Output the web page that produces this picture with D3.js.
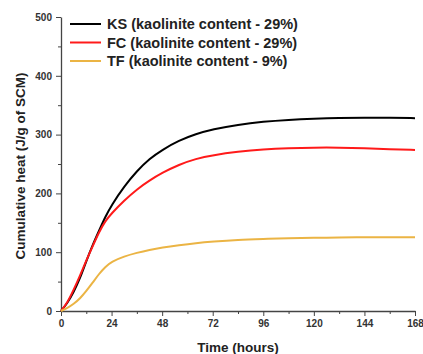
<!DOCTYPE html>
<html>
<head>
<meta charset="utf-8">
<script src="https://cdn.jsdelivr.net/npm/d3@7"></script>
<style>
  body { margin: 0; background: #fff; }
  svg text { font-family: "Liberation Sans", Arial, sans-serif; font-weight: bold; }
</style>
</head>
<body>
<svg id="chart"></svg>
<script>
// Time points (hours) and cumulative heat for each clay
const hours = [0, 3, 6, 9, 12, 15, 18, 21, 24, 30, 36, 42, 48, 56, 64, 72, 84, 96, 108, 120, 132, 144, 156, 168];
const ksHeat = [0, 13, 32, 55, 85, 112, 136, 160, 180, 212, 238, 259, 274, 290, 301, 309, 317, 322, 325, 327, 328.5, 329, 328.5, 328];
const fcHeat = [0, 14, 36, 60, 86, 110, 134, 153, 166, 188, 207, 222, 235, 249, 259, 265, 271, 275, 277, 278, 278, 277, 275, 274];
const tfHeat = [0, 5, 12, 21, 34, 48, 63, 75, 84, 93, 99, 104, 108, 112, 115.5, 118, 121, 122.5, 124, 124.5, 125, 125.5, 125.5, 125.5];

const seriesNames = ["KS (kaolinite content - 29%)", "FC (kaolinite content - 29%)", "TF (kaolinite content - 9%)"];
const seriesColors = ["#000000", "#ff1a1a", "#ebb444"];

const xTicks = [0, 24, 48, 72, 96, 120, 144, 168];
const yTicks = [0, 100, 200, 300, 400, 500];

const width = 423;
const height = 354;

const svg = d3.select("#chart")
    .attr("width", width)
    .attr("height", height);

const xScale = d3.scaleLinear().domain([0, 168]).range([61, 415]);
const yScale = d3.scaleLinear().domain([0, 500]).range([311, 17]);

// minor ticks first
svg.append("g")
    .attr("transform", "translate(0,311)")
    .call(d3.axisBottom(xScale).tickValues(d3.range(12, 168, 24)).tickSize(3).tickFormat(""))
    .call(g => g.select(".domain").remove())
    .selectAll("line").attr("stroke", "#444");

svg.append("g")
    .attr("transform", "translate(61,0)")
    .call(d3.axisLeft(yScale).tickValues(d3.range(50, 500, 100)).tickSize(3).tickFormat(""))
    .call(g => g.select(".domain").remove())
    .selectAll("line").attr("stroke", "#444");

// X axis
const xAxis = svg.append("g")
    .attr("transform", "translate(0,311)")
    .call(d3.axisBottom(xScale).tickValues(xTicks).tickSize(5).tickSizeOuter(0).tickPadding(4));
xAxis.select(".domain").attr("stroke", "#444").attr("stroke-width", 1.3);
xAxis.selectAll("line").attr("stroke", "#444");
xAxis.selectAll("text").attr("font-size", 10).attr("fill", "#333");

// Y axis
const yAxis = svg.append("g")
    .attr("transform", "translate(61,0)")
    .call(d3.axisLeft(yScale).tickValues(yTicks).tickSize(5).tickSizeOuter(0).tickPadding(4));
yAxis.select(".domain").attr("stroke", "#444").attr("stroke-width", 1.3);
yAxis.selectAll("line").attr("stroke", "#444");
yAxis.selectAll("text").attr("font-size", 10).attr("fill", "#333");

// Axis titles
svg.append("text")
    .attr("x", 238)
    .attr("y", 352)
    .attr("text-anchor", "middle")
    .attr("font-size", 13.5)
    .attr("fill", "#222")
    .text("Time (hours)");

svg.append("text")
    .attr("transform", "translate(25,166) rotate(-90)")
    .attr("text-anchor", "middle")
    .attr("font-size", 13.5)
    .attr("fill", "#222")
    .text("Cumulative heat (J/g of SCM)");

// Lines
const allSeries = [ksHeat, fcHeat, tfHeat];
const line = d3.line()
    .x((d, i) => xScale(hours[i]))
    .y(d => yScale(d))
    .curve(d3.curveBasis);

allSeries.forEach((values, i) => {
    svg.append("path")
        .datum(values)
        .attr("fill", "none")
        .attr("stroke", seriesColors[i])
        .attr("stroke-width", 2)
        .attr("d", line);
});

// Legend
const legend = svg.append("g");
seriesNames.forEach((name, i) => {
    const y = 24 + i * 18.5;
    legend.append("line")
        .attr("x1", 70).attr("x2", 101)
        .attr("y1", y).attr("y2", y)
        .attr("stroke", seriesColors[i])
        .attr("stroke-width", 2);
    legend.append("text")
        .attr("x", 107)
        .attr("y", y + 5)
        .attr("font-size", 14.5)
        .attr("fill", "#222")
        .text(name);
});
</script>
</body>
</html>
